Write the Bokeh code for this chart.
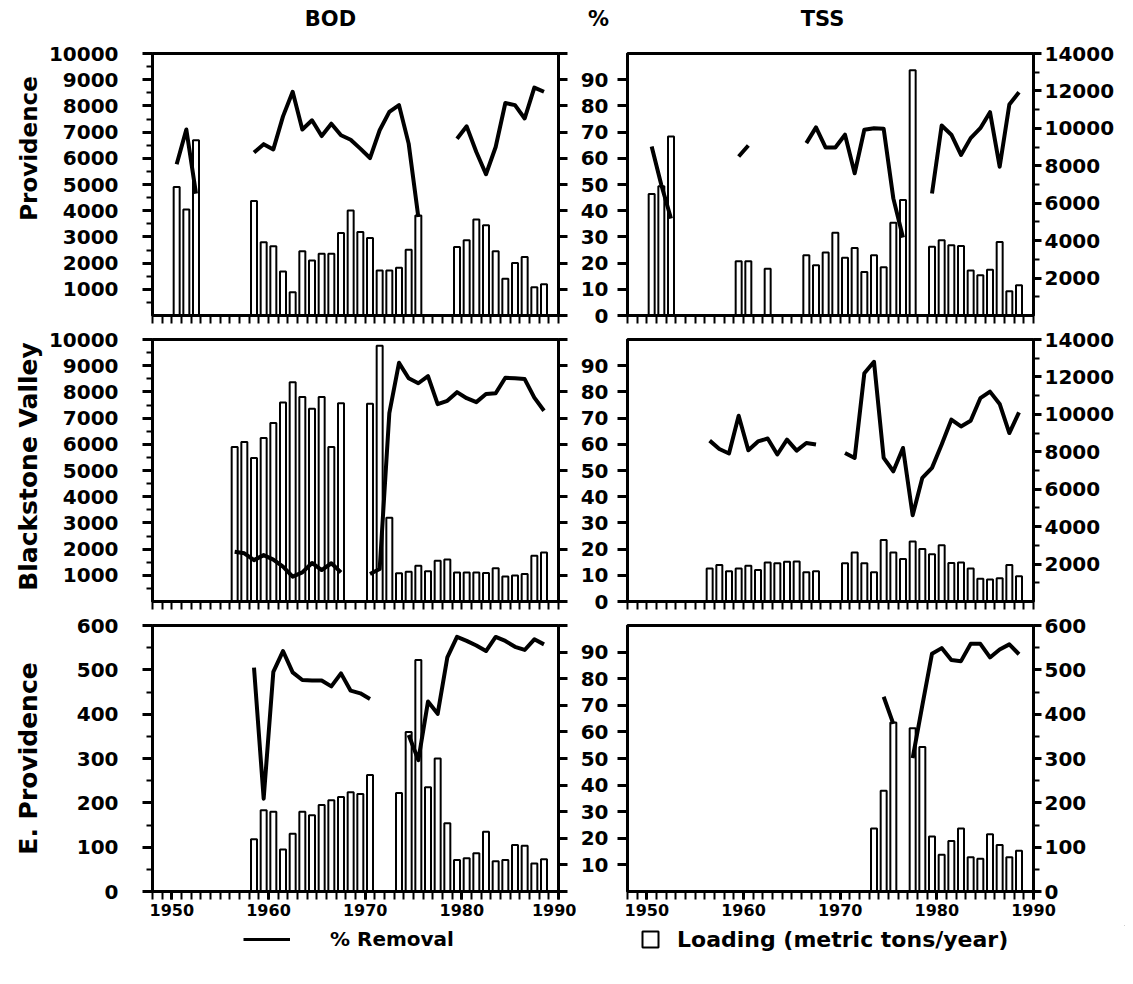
import math
from bokeh.plotting import figure
from bokeh.models import Range1d, LinearAxis, FixedTicker, Label, Legend, LegendItem
from bokeh.layouts import column, row
from bokeh.embed import file_html
from bokeh.resources import INLINE

FONT = "DejaVu Sans"

# ---------------- data (years, loading in metric tons/year, % removal) ----------------
BOD_PROV_YEARS = [1950, 1951, 1952,
                  1958, 1959, 1960, 1961, 1962, 1963, 1964, 1965, 1966, 1967, 1968, 1969, 1970, 1971, 1972, 1973, 1974, 1975,
                  1979, 1980, 1981, 1982, 1983, 1984, 1985, 1986, 1987, 1988]
BOD_PROV_LOAD = [4900, 4050, 6690,
                 4370, 2800, 2640, 1680, 890, 2450, 2100, 2360, 2360, 3150, 4010, 3190, 2960, 1720, 1720, 1820, 2510, 3820,
                 2610, 2870, 3660, 3440, 2450, 1400, 2000, 2230, 1080, 1190]
BOD_PROV_PCT_YEARS = [1950, 1951, 1952, None,
                      1958, 1959, 1960, 1961, 1962, 1963, 1964, 1965, 1966, 1967, 1968, 1969, 1970, 1971, 1972, 1973, 1974, 1975, None,
                      1979, 1980, 1981, 1982, 1983, 1984, 1985, 1986, 1987, 1988]
BOD_PROV_PCT = [57.7, 71.0, 46.5, None,
                62.2, 65.4, 63.4, 76.0, 85.4, 71.0, 74.5, 68.5, 73.2, 68.8, 67.1, 63.7, 60.1, 70.7, 77.7, 80.3, 65.6, 37.6, None,
                67.5, 72.2, 62.4, 53.9, 64.3, 81.1, 80.3, 75.2, 87.0, 85.4]

TSS_PROV_YEARS = [1950, 1951, 1952, 1959, 1960, 1962,
                  1966, 1967, 1968, 1969, 1970, 1971, 1972, 1973, 1974, 1975, 1976, 1977,
                  1979, 1980, 1981, 1982, 1983, 1984, 1985, 1986, 1987, 1988]
TSS_PROV_LOAD = [6490, 6900, 9570, 2900, 2900, 2500,
                 3220, 2680, 3360, 4420, 3080, 3610, 2320, 3220, 2580, 4950, 6170, 13100,
                 3670, 4020, 3760, 3720, 2410, 2150, 2450, 3930, 1290, 1610]
TSS_PROV_PCT_YEARS = [1950, 1951, 1952, None, 1959, 1960, None,
                      1966, 1967, 1968, 1969, 1970, 1971, 1972, 1973, 1974, 1975, 1976, None,
                      1979, 1980, 1981, 1982, 1983, 1984, 1985, 1986, 1987, 1988]
TSS_PROV_PCT = [64.5, 49.8, 37.0, None, 60.7, 64.9, None,
                65.8, 71.8, 64.1, 64.1, 69.0, 54.3, 70.9, 71.5, 71.3, 44.7, 29.8, None,
                46.6, 72.5, 69.0, 61.3, 67.7, 71.5, 77.6, 56.8, 80.5, 85.2]

BOD_BV_YEARS = [1956, 1957, 1958, 1959, 1960, 1961, 1962, 1963, 1964, 1965, 1966, 1967,
                1970, 1971, 1972, 1973, 1974, 1975, 1976, 1977, 1978, 1979, 1980, 1981, 1982, 1983, 1984, 1985, 1986, 1987, 1988]
BOD_BV_LOAD = [5900, 6090, 5480, 6240, 6810, 7600, 8370, 7810, 7360, 7810, 5900, 7570,
               7550, 9760, 3200, 1080, 1140, 1360, 1150, 1560, 1600, 1110, 1110, 1110, 1090, 1270, 950, 990, 1050, 1750, 1870]
BOD_BV_PCT_YEARS = [1956, 1957, 1958, 1959, 1960, 1961, 1962, 1963, 1964, 1965, 1966, 1967, None,
                    1970, 1971, 1972, 1973, 1974, 1975, 1976, 1977, 1978, 1979, 1980, 1981, 1982, 1983, 1984, 1985, 1986, 1987, 1988]
BOD_BV_PCT = [19.0, 18.4, 15.8, 17.7, 16.0, 13.3, 9.5, 11.1, 14.7, 12.0, 14.6, 11.1, None,
              10.5, 12.4, 71.9, 91.1, 85.2, 83.3, 86.0, 75.3, 76.6, 79.9, 77.6, 76.1, 79.2, 79.5, 85.4, 85.2, 84.9, 77.8, 72.8]

TSS_BV_YEARS = BOD_BV_YEARS
TSS_BV_LOAD = [1770, 1950, 1610, 1770, 1910, 1680, 2090, 2040, 2130, 2140, 1560, 1610,
               2040, 2620, 2040, 1560, 3280, 2620, 2270, 3210, 2800, 2530, 3010, 2060, 2090, 1770, 1210, 1170, 1240, 1950, 1350]
TSS_BV_PCT_YEARS = BOD_BV_PCT_YEARS
TSS_BV_PCT = [61.4, 58.2, 56.5, 70.9, 57.7, 61.1, 62.2, 56.1, 61.8, 57.6, 60.5, 59.9, None,
              56.7, 54.8, 87.1, 91.5, 54.8, 49.7, 58.6, 32.9, 47.2, 51.0, 59.9, 69.4, 66.8, 69.0, 77.6, 80.1, 75.4, 64.3, 72.2]

BOD_EP_YEARS = [1958, 1959, 1960, 1961, 1962, 1963, 1964, 1965, 1966, 1967, 1968, 1969, 1970,
                1973, 1974, 1975, 1976, 1977, 1978, 1979, 1980, 1981, 1982, 1983, 1984, 1985, 1986, 1987, 1988]
BOD_EP_LOAD = [118, 183, 180, 95, 130, 180, 172, 195, 206, 213, 224, 220, 263,
               222, 360, 522, 235, 300, 154, 71, 75, 86, 135, 68, 71, 105, 103, 63, 73]
BOD_EP_PCT_YEARS = [1958, 1959, 1960, 1961, 1962, 1963, 1964, 1965, 1966, 1967, 1968, 1969, 1970, None,
                    1974, 1975, 1976, 1977, 1978, 1979, 1980, 1981, 1982, 1983, 1984, 1985, 1986, 1987, 1988]
BOD_EP_PCT = [84.2, 34.9, 82.6, 90.4, 82.4, 79.5, 79.3, 79.3, 77.1, 82.0, 75.5, 74.5, 72.4, None,
              58.8, 49.4, 71.4, 66.8, 88.0, 95.7, 94.2, 92.5, 90.4, 95.7, 94.2, 92.0, 90.8, 94.8, 92.9]

TSS_EP_YEARS = [1973, 1974, 1975, 1977, 1978, 1979, 1980, 1981, 1982, 1983, 1984, 1985, 1986, 1987, 1988]
TSS_EP_LOAD = [142, 227, 381, 368, 326, 124, 83, 114, 142, 77, 74, 129, 105, 77, 92]
TSS_EP_PCT_YEARS = [1974, 1975, None, 1977, 1978, 1979, 1980, 1981, 1982, 1983, 1984, 1985, 1986, 1987, 1988]
TSS_EP_PCT = [73.2, 63.0, None, 50.1, 70.0, 89.4, 91.5, 87.0, 86.6, 93.1, 93.1, 88.0, 91.0, 92.9, 89.2]

COL_TITLES = ["BOD", "%", "TSS"]
ROW_LABELS = ["Providence", "Blackstone Valley", "E. Providence"]
LEGEND_LABELS = ["% Removal", "Loading (metric tons/year)"]
X_START, X_END = 1948, 1990
X_LABEL_TICKS = [1950, 1960, 1970, 1980, 1990]
YEAR_TICKS = list(range(X_START, X_END + 1))


def nanify(vals):
    return [float("nan") if v is None else v for v in vals]


def style_axis(ax, size="20px"):
    ax.axis_line_width = 3
    ax.axis_line_color = "black"
    ax.major_tick_line_width = 3
    ax.minor_tick_line_width = 2
    ax.major_tick_line_color = "black"
    ax.minor_tick_line_color = "black"
    ax.major_tick_out = 10
    ax.major_tick_in = 0
    ax.minor_tick_out = 6
    ax.minor_tick_in = 0
    ax.major_label_text_font = FONT
    ax.major_label_text_font_style = "bold"
    ax.major_label_text_color = "black"
    ax.major_label_text_font_size = size


def build(side, years, load, pyears, pct, load_max, load_ticks, load_minor,
          pct_ticks, show_x, width, height, borders):
    p = figure(width=width, height=height,
               x_range=Range1d(X_START, X_END), y_range=Range1d(0, load_max),
               output_backend="svg", toolbar_location=None,
               x_axis_location=None, y_axis_location=None,
               min_border_left=borders[0], min_border_right=borders[1],
               min_border_top=borders[2], min_border_bottom=borders[3])
    p.extra_y_ranges = {"pct": Range1d(0, 100)}
    p.xgrid.visible = False
    p.ygrid.visible = False
    p.outline_line_color = "black"
    p.outline_line_width = 3
    p.background_fill_color = "white"
    p.border_fill_color = "white"

    xax = LinearAxis(ticker=FixedTicker(ticks=X_LABEL_TICKS if show_x else [],
                                        minor_ticks=YEAR_TICKS))
    style_axis(xax, "16px")
    xax.major_tick_out = 8
    xax.minor_tick_out = 8
    xax.major_label_standoff = 4
    p.add_layout(xax, "below")

    load_ax = LinearAxis(ticker=FixedTicker(ticks=load_ticks, minor_ticks=load_minor))
    style_axis(load_ax)
    if side == "left":
        pct_ax = LinearAxis(y_range_name="pct",
                            ticker=FixedTicker(ticks=[], minor_ticks=list(range(0, 101, 10))))
        style_axis(pct_ax)
        pct_ax.minor_tick_out = 9
        pct_ax.minor_tick_line_width = 3
        load_ax.major_label_standoff = 24
        p.add_layout(load_ax, "left")
        p.add_layout(pct_ax, "right")
    else:
        pct_ax = LinearAxis(y_range_name="pct", ticker=FixedTicker(ticks=pct_ticks, minor_ticks=[]))
        style_axis(pct_ax)
        pct_ax.major_label_standoff = 9
        load_ax.major_tick_out = 8
        load_ax.major_label_standoff = 3
        p.add_layout(pct_ax, "left")
        p.add_layout(load_ax, "right")

    p.vbar(x=[y + 0.5 for y in years], top=load, bottom=0, width=0.62,
           fill_color="white", line_color="black", line_width=2)
    lx = [float("nan") if y is None else y + 0.5 for y in pyears]
    p.line(lx, nanify(pct), y_range_name="pct", line_color="black", line_width=4,
           line_join="round")
    return p


def strip(width, height):
    p = figure(width=width, height=height, x_range=Range1d(0, 1), y_range=Range1d(0, 1),
               output_backend="svg", toolbar_location=None,
               x_axis_location=None, y_axis_location=None,
               min_border_left=0, min_border_right=0, min_border_top=0, min_border_bottom=0)
    p.outline_line_color = None
    p.xgrid.visible = False
    p.ygrid.visible = False
    p.background_fill_color = "white"
    p.border_fill_color = "white"
    return p


def text_label(p, x, y, text, size, angle=0.0):
    p.add_layout(Label(x=x, y=y, x_units="screen", y_units="screen", text=text,
                       text_align="center", text_baseline="middle", angle=angle,
                       text_font=FONT, text_font_style="bold", text_font_size=size,
                       text_color="black"))


SIDE_W = 45
LW, RW = 531, 549          # left figure x 45..576, right figure x 576..1125
LB = (107, 18)
RB = (51, 92)
H1, H2, H3 = 286, 286, 312
HEAD_H, LEG_H = 41, 48

BIG_TICKS = list(range(1000, 10001, 1000))
BIG_MINOR = list(range(500, 10000, 1000))
TSS_TICKS = list(range(2000, 14001, 2000))
TSS_MINOR = list(range(1000, 14000, 2000))
SMALL_TICKS = list(range(0, 601, 100))
SMALL_MINOR = list(range(50, 600, 100))
PCT_TICKS = list(range(0, 91, 10))
PCT_TICKS_BOTTOM = list(range(10, 91, 10))

f11 = build("left", BOD_PROV_YEARS, BOD_PROV_LOAD, BOD_PROV_PCT_YEARS, BOD_PROV_PCT,
            10000, BIG_TICKS, BIG_MINOR, None, False, LW, H1, (LB[0], LB[1], 12, 12))
f12 = build("right", TSS_PROV_YEARS, TSS_PROV_LOAD, TSS_PROV_PCT_YEARS, TSS_PROV_PCT,
            14000, TSS_TICKS, TSS_MINOR, PCT_TICKS, False, RW, H1, (RB[0], RB[1], 12, 12))
f21 = build("left", BOD_BV_YEARS, BOD_BV_LOAD, BOD_BV_PCT_YEARS, BOD_BV_PCT,
            10000, BIG_TICKS, BIG_MINOR, None, False, LW, H2, (LB[0], LB[1], 12, 12))
f22 = build("right", TSS_BV_YEARS, TSS_BV_LOAD, TSS_BV_PCT_YEARS, TSS_BV_PCT,
            14000, TSS_TICKS, TSS_MINOR, PCT_TICKS, False, RW, H2, (RB[0], RB[1], 12, 12))
f31 = build("left", BOD_EP_YEARS, BOD_EP_LOAD, BOD_EP_PCT_YEARS, BOD_EP_PCT,
            600, SMALL_TICKS, SMALL_MINOR, None, True, LW, H3, (LB[0], LB[1], 12, 34))
f32 = build("right", TSS_EP_YEARS, TSS_EP_LOAD, TSS_EP_PCT_YEARS, TSS_EP_PCT,
            600, SMALL_TICKS, SMALL_MINOR, PCT_TICKS_BOTTOM, True, RW, H3, (RB[0], RB[1], 12, 34))

# header with column titles
head = strip(SIDE_W + LW + RW, HEAD_H)
text_label(head, 330, 23, COL_TITLES[0], "21px")
text_label(head, 598, 23, COL_TITLES[1], "21px")
text_label(head, 822, 23, COL_TITLES[2], "21px")

# side strip with row labels
side = strip(SIDE_W, H1 + H2 + H3)
text_label(side, 28, 777, ROW_LABELS[0], "23px", math.pi / 2)
text_label(side, 28, 459, ROW_LABELS[1], "25px", math.pi / 2)
text_label(side, 28, 167, ROW_LABELS[2], "25px", math.pi / 2)

# legend strip (page y 925..973)
leg = strip(SIDE_W + LW + RW, LEG_H)
r_line = leg.line([5, 6], [5, 5], line_color="black", line_width=3)
r_box = leg.vbar(x=[5], top=[6], bottom=5, width=1, fill_color="white",
                 line_color="black", line_width=2)
common = dict(padding=0, margin=0, border_line_color=None, background_fill_alpha=0,
              label_text_font=FONT, label_text_font_style="bold",
              label_text_color="black", glyph_height=20, label_height=28)
leg1 = Legend(items=[LegendItem(label=LEGEND_LABELS[0], renderers=[r_line])],
              location=(243, 20), glyph_width=47, label_standoff=40,
              label_text_font_size="20px", **common)
leg2 = Legend(items=[LegendItem(label=LEGEND_LABELS[1], renderers=[r_box])],
              location=(640, 20), glyph_width=20, label_standoff=17,
              label_text_font_size="22px", **common)
leg.add_layout(leg1)
leg.add_layout(leg2)

grid = column(row(f11, f12), row(f21, f22), row(f31, f32))
layout = column(head, row(side, grid), leg)
open("out.html", "w").write(file_html(layout, INLINE))
